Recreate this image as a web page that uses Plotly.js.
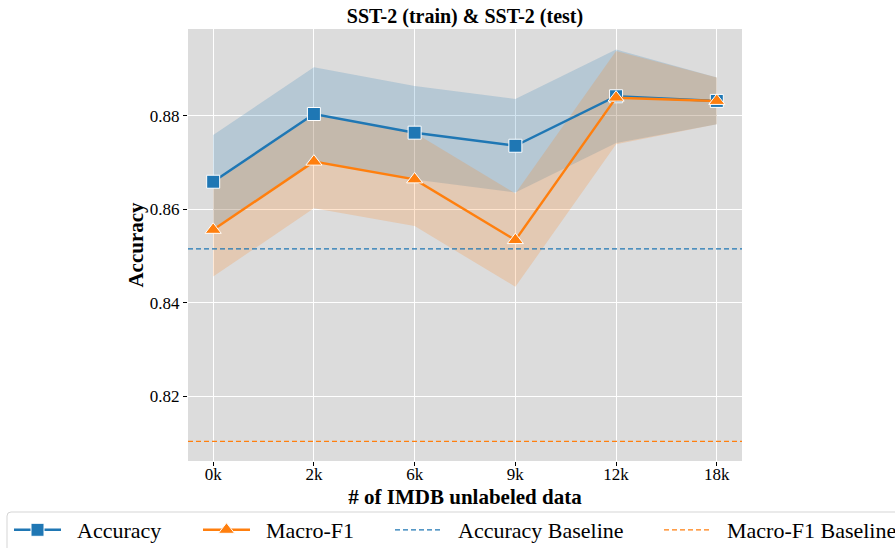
<!DOCTYPE html>
<html>
<head>
<meta charset="utf-8">
<script src="https://cdn.plot.ly/plotly-3.0.1.min.js"></script>
<style>html,body{margin:0;padding:0;background:#fff;}#chart{width:895px;height:548px;}</style>
</head>
<body>
<div id="chart"></div>
<script>
const categories = ['0k', '2k', '6k', '9k', '12k', '18k'];
const accuracyMean = [0.8659, 0.8804, 0.8764, 0.8736, 0.8842, 0.8832];
const accuracyUpper = [0.8759, 0.8904, 0.8864, 0.8836, 0.8942, 0.8882];
const accuracyLower = [0.8559, 0.8704, 0.8664, 0.8636, 0.8742, 0.8782];
const macroF1Mean = [0.8556, 0.8702, 0.8664, 0.8534, 0.8839, 0.8832];
const macroF1Upper = [0.8656, 0.8802, 0.8764, 0.8634, 0.8939, 0.8882];
const macroF1Lower = [0.8456, 0.8602, 0.8564, 0.8434, 0.8739, 0.8782];
const accuracyBaseline = 0.8515;
const macroF1Baseline = 0.8103;
const yTicks = [0.82, 0.84, 0.86, 0.88];
const seriesNames = ['Accuracy', 'Macro-F1', 'Accuracy Baseline', 'Macro-F1 Baseline'];

const BLUE = '#1f77b4', ORANGE = '#ff7f0e';
const FONT = 'Liberation Serif, Times New Roman, serif';
const PAD = '\u00a0\u00a0';

const traces = [
  {x: categories, y: accuracyUpper, mode: 'lines', line: {width: 0, color: BLUE}, showlegend: false, hoverinfo: 'skip'},
  {x: categories, y: accuracyLower, mode: 'lines', line: {width: 0, color: BLUE}, fill: 'tonexty', fillcolor: 'rgba(31,119,180,0.2)', showlegend: false, hoverinfo: 'skip'},
  {x: categories, y: macroF1Upper, mode: 'lines', line: {width: 0, color: ORANGE}, showlegend: false, hoverinfo: 'skip'},
  {x: categories, y: macroF1Lower, mode: 'lines', line: {width: 0, color: ORANGE}, fill: 'tonexty', fillcolor: 'rgba(255,127,14,0.2)', showlegend: false, hoverinfo: 'skip'},
  {x: categories, y: accuracyMean, name: PAD + seriesNames[0], mode: 'lines+markers', line: {color: BLUE, width: 2.5},
   marker: {symbol: 'square', size: 13, color: BLUE, line: {color: '#fff', width: 1}}, legend: 'legend'},
  {x: categories, y: macroF1Mean, name: PAD + seriesNames[1], mode: 'lines+markers', line: {color: ORANGE, width: 2.5},
   marker: {symbol: 'triangle-up', size: 14, color: ORANGE, line: {color: '#fff', width: 1}}, legend: 'legend2'},
  {x: [null], y: [null], name: PAD + seriesNames[2], mode: 'lines', line: {color: BLUE, width: 1.3, dash: '5px,3px'}, legend: 'legend3'},
  {x: [null], y: [null], name: PAD + seriesNames[3], mode: 'lines', line: {color: ORANGE, width: 1.3, dash: '5px,3px'}, legend: 'legend4'}
];

function px2x(p) { return (p - 188) / 554; }
function py2y(p) { return (461 - p) / 432; }
const legBase = {orientation: 'h', xref: 'container', yref: 'container', xanchor: 'left', yanchor: 'middle', y: 1 - 530 / 548,
  bgcolor: 'rgba(0,0,0,0)', font: {family: FONT, size: 22, color: '#000'}, itemwidth: 47};

const layout = {
  width: 895, height: 548,
  margin: {l: 188, r: 153, t: 29, b: 87},
  paper_bgcolor: '#fff', plot_bgcolor: '#dcdcdc',
  font: {family: FONT, color: '#000'},
  title: {text: '<b>SST-2 (train) & SST-2 (test)</b>', font: {family: FONT, size: 20, color: '#000'}, xref: 'container', x: 465 / 895, xanchor: 'center', yref: 'container', y: 1 - 16 / 548, yanchor: 'middle'},
  xaxis: {type: 'category', range: [-0.25, 5.25], showgrid: true, gridcolor: '#fff', gridwidth: 1, zeroline: false,
    ticks: 'outside', ticklen: 4, tickcolor: '#000', tickfont: {family: FONT, size: 17, color: '#000'}, ticklabelstandoff: -6,
    title: {text: '<b># of IMDB unlabeled data</b>', font: {family: FONT, size: 21, color: '#000'}, standoff: 10}},
  yaxis: {range: [0.8061, 0.8986], tickvals: yTicks, ticktext: yTicks.map(v => v.toFixed(2)), showgrid: true, gridcolor: '#fff', gridwidth: 1, zeroline: false,
    ticks: 'outside', ticklen: 4, tickcolor: '#000', tickfont: {family: FONT, size: 17, color: '#000'},
    title: {text: '<b>Accuracy</b>', font: {family: FONT, size: 21, color: '#000'}, standoff: 0}},
  shapes: [
    {type: 'line', xref: 'paper', x0: 0, x1: 1, yref: 'y', y0: accuracyBaseline, y1: accuracyBaseline, line: {color: BLUE, width: 1.3, dash: '5px,3px'}},
    {type: 'line', xref: 'paper', x0: 0, x1: 1, yref: 'y', y0: macroF1Baseline, y1: macroF1Baseline, line: {color: ORANGE, width: 1.3, dash: '5px,3px'}},
    {type: 'path', xref: 'paper', yref: 'paper', layer: 'above',
     path: `M ${px2x(11)},${py2y(512)} L ${px2x(905)},${py2y(512)} L ${px2x(905)},${py2y(552)} L ${px2x(7)},${py2y(552)} L ${px2x(7)},${py2y(516)} Q ${px2x(7)},${py2y(512)} ${px2x(11)},${py2y(512)} Z`,
     line: {color: '#d5d5d5', width: 1}, fillcolor: 'rgba(255,255,255,0)'}
  ],
  legend: Object.assign({}, legBase, {x: 9 / 895}),
  legend2: Object.assign({}, legBase, {x: 198 / 895}),
  legend3: Object.assign({}, legBase, {x: 390 / 895}),
  legend4: Object.assign({}, legBase, {x: 659 / 895})
};

Plotly.newPlot('chart', traces, layout, {displayModeBar: false, staticPlot: true});
</script>
</body>
</html>
